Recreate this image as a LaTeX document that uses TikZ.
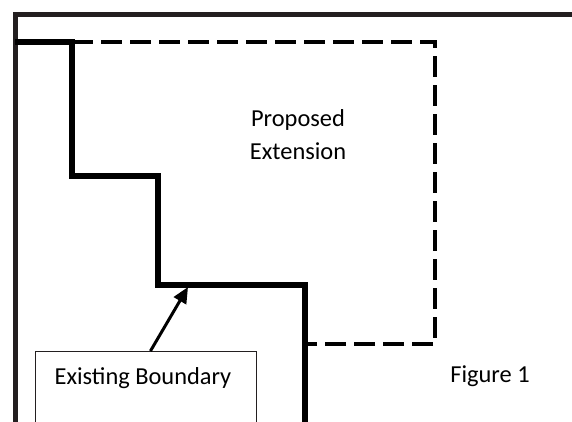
\documentclass[tikz,border=0pt]{standalone}
\usepackage{fontspec}
\setmainfont{Carlito}
\usetikzlibrary{arrows.meta}
\definecolor{framegray}{HTML}{231F20}
\begin{document}
\begin{tikzpicture}[x=1pt,y=-1pt,
  frameline/.style={draw=framegray,line width=5pt},
  boundary/.style={draw=black,line width=5.5pt,line join=miter},
  extension/.style={draw=black,line width=4pt,dash pattern=on 21pt off 8pt},
  labelbox/.style={draw=framegray,line width=0.9pt,minimum width=221pt,minimum height=120pt,anchor=north west,inner sep=0pt},
  txt/.style={font=\fontsize{24.4}{33}\selectfont,inner sep=0pt,align=center},
  pointer/.style={draw=black,line width=3pt,-{Triangle[length=16pt,width=14pt]}}]
\clip (0,0) rectangle (572,421);
\fill[white] (0,0) rectangle (572,421);
% outer frame
\coordinate (f1) at (15,440);
\coordinate (f2) at (15,14);
\coordinate (f3) at (590,14);
\draw[frameline] (f1) -- (f2) -- (f3);
% existing boundary (stepped)
\coordinate (b0) at (15,42);
\coordinate (b1) at (72,42);
\coordinate (b2) at (72,176);
\coordinate (b3) at (158,176);
\coordinate (b4) at (158,285);
\coordinate (b5) at (305,285);
\coordinate (b6) at (305,440);
\draw[boundary] (b0) -- (b1) -- (b2) -- (b3) -- (b4) -- (b5) -- (b6);
% proposed extension (dashed)
\coordinate (e1) at (435,42);
\coordinate (e2) at (435,344);
\coordinate (e3) at (305,344);
\draw[extension] (b1) -- (e1) -- (e2) -- (e3);
% labels
\node[txt] (prop) at (298,135) {Proposed\\Extension};
\node[labelbox] (box) at (35,351) {};
\node[txt] (boxtext) at (143,378) {Existing Boundary};
\node[txt] (fig) at (490,376) {Figure 1};
\coordinate (tip) at (188,287);
\draw[pointer] ([xshift=4.5pt]box.north) -- (tip);
\end{tikzpicture}
\end{document}
